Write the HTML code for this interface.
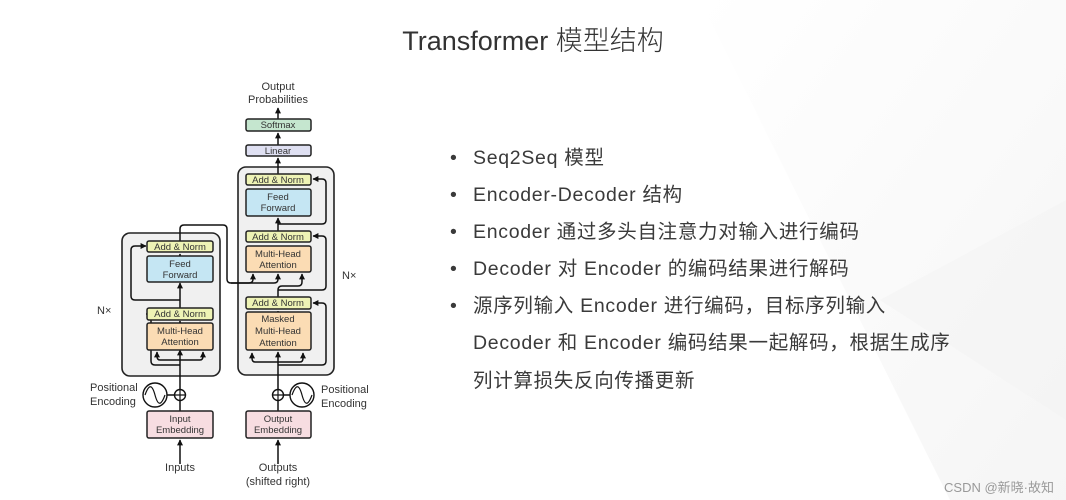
<!DOCTYPE html>
<html><head><meta charset="utf-8"><style>
html,body{margin:0;padding:0;background:#fff;}
svg{display:block;}
.d{font-family:"Liberation Sans",sans-serif;font-size:9.5px;fill:#333;text-anchor:middle;}
.l{font-family:"Liberation Sans",sans-serif;font-size:11px;fill:#333;}
.t{font-family:"Liberation Sans","Noto Sans CJK SC",sans-serif;font-size:19.5px;fill:#3a3a3a;letter-spacing:0.7px;}
</style></head><body>
<svg width="1066" height="500" viewBox="0 0 1066 500" xmlns="http://www.w3.org/2000/svg">
<defs>
<linearGradient id="bg" x1="0" y1="0" x2="1" y2="1"><stop offset="0" stop-color="#ffffff"/><stop offset="1" stop-color="#f1f1f1"/></linearGradient>
<marker id="a" viewBox="0 0 10 10" refX="9" refY="5" markerWidth="4" markerHeight="4" orient="auto"><path d="M0,0L10,5L0,10z" fill="#111"/></marker>
</defs>
<rect width="1066" height="500" fill="#fff"/>
<polygon points="700,0 1066,0 1066,500 950,500" fill="url(#bg)" opacity="0.7"/>
<polygon points="880,300 1066,200 1066,420" fill="#f3f3f3" opacity="0.6"/>

<text x="533" y="50" text-anchor="middle" style="font-family:'Liberation Sans','Noto Sans CJK SC',sans-serif;font-size:27px;fill:#333;font-weight:300">Transformer 模型结构</text>

<rect x="122" y="233" width="98" height="143" rx="8" fill="#f0f0f0" stroke="#222" stroke-width="1.6"/>
<rect x="238" y="167" width="96" height="208" rx="8" fill="#f0f0f0" stroke="#222" stroke-width="1.6"/>

<g stroke="#111" stroke-width="1.5" fill="none">
<line x1="180" y1="464" x2="180" y2="440" marker-end="url(#a)"/>
<line x1="180" y1="411" x2="180" y2="401"/>
<line x1="180" y1="389" x2="180" y2="350" marker-end="url(#a)"/>
<line x1="167" y1="395" x2="174" y2="395"/>
<path d="M180,365 H155 Q151,365 151,361 V318 Q151,314 155,314 H146" />
<path d="M180,360 H160 Q157,360 157,356 V352" marker-end="url(#a)"/>
<path d="M180,360 H200 Q203,360 203,356 V352" marker-end="url(#a)"/>
<line x1="180" y1="323" x2="180" y2="321" marker-end="url(#a)"/>
<line x1="180" y1="308" x2="180" y2="283" marker-end="url(#a)"/>
<path d="M180,300 H135 Q131,300 131,296 V250 Q131,246 135,246 H146" marker-end="url(#a)"/>
<line x1="180" y1="256" x2="180" y2="254" marker-end="url(#a)"/>
<path d="M180,241 V229 Q180,225 184,225 H223 Q227,225 227,229 V279 Q227,283 231,283 H249 Q253,283 253,279 V274" marker-end="url(#a)"/>
<path d="M231,283 H274 Q278,283 278,279 V274" marker-end="url(#a)"/>
<line x1="278" y1="464" x2="278" y2="440" marker-end="url(#a)"/>
<line x1="278" y1="411" x2="278" y2="401"/>
<line x1="278" y1="389" x2="278" y2="352" marker-end="url(#a)"/>
<line x1="284" y1="395" x2="290" y2="395"/>
<path d="M278,362 H255 Q252,362 252,358 V353" marker-end="url(#a)"/>
<path d="M278,362 H300 Q303,362 303,358 V353" marker-end="url(#a)"/>
<path d="M278,365 H322 Q326,365 326,361 V307 Q326,303 322,303 H313" marker-end="url(#a)"/>
<line x1="278" y1="312" x2="278" y2="311"/>
<path d="M278,297 V290 Q278,286 282,286 H298 Q302,286 302,282 V274" marker-end="url(#a)"/>
<path d="M278,290 H322 Q326,290 326,286 V240 Q326,236 322,236 H313" marker-end="url(#a)"/>
<line x1="278" y1="231" x2="278" y2="218" marker-end="url(#a)"/>
<path d="M278,224 H322 Q326,224 326,220 V183 Q326,179 322,179 H313" marker-end="url(#a)"/>
<line x1="278" y1="174" x2="278" y2="158" marker-end="url(#a)"/>
<line x1="278" y1="145" x2="278" y2="133" marker-end="url(#a)"/>
<line x1="278" y1="119" x2="278" y2="108" marker-end="url(#a)"/>
</g>

<g stroke="#222" stroke-width="1.5">
<rect x="147" y="241" width="66" height="11" rx="2" fill="#eef3b5"/>
<rect x="147" y="256" width="66" height="26" rx="2" fill="#c5e6f3"/>
<rect x="147" y="308" width="66" height="12" rx="2" fill="#eef3b5"/>
<rect x="147" y="323" width="66" height="27" rx="2" fill="#fbdcb4"/>
<rect x="147" y="411" width="66" height="27" rx="2" fill="#f7dde1"/>
<rect x="246" y="119" width="65" height="12" rx="2" fill="#c5e6cf"/>
<rect x="246" y="145" width="65" height="11" rx="2" fill="#dfe0f2"/>
<rect x="246" y="174" width="65" height="11" rx="2" fill="#eef3b5"/>
<rect x="246" y="189" width="65" height="27" rx="2" fill="#c5e6f3"/>
<rect x="246" y="231" width="65" height="11" rx="2" fill="#eef3b5"/>
<rect x="246" y="246" width="65" height="26" rx="2" fill="#fbdcb4"/>
<rect x="246" y="297" width="65" height="12" rx="2" fill="#eef3b5"/>
<rect x="246" y="312" width="65" height="38" rx="2" fill="#fbdcb4"/>
<rect x="246" y="411" width="65" height="27" rx="2" fill="#f7dde1"/>
</g>
<g stroke="#111" stroke-width="1.4" fill="#fff">
<circle cx="180" cy="395" r="5.5"/><circle cx="155" cy="395" r="12"/>
<circle cx="278" cy="395" r="5.5"/><circle cx="302" cy="395" r="12"/>
</g>
<g stroke="#111" stroke-width="1.2" fill="none">
<path d="M174.5,395H185.5M180,389.5V400.5M272.5,395H283.5M278,389.5V400.5"/>
<path d="M145,395 C149,384 152,384 155,395 C158,406 161,406 165,395"/>
<path d="M292,395 C296,384 299,384 302,395 C305,406 308,406 312,395"/>
</g>

<text class="d" x="180" y="250">Add &amp; Norm</text>
<text class="d" x="180" y="267">Feed</text><text class="d" x="180" y="278">Forward</text>
<text class="d" x="180" y="317">Add &amp; Norm</text>
<text class="d" x="180" y="334">Multi-Head</text><text class="d" x="180" y="345">Attention</text>
<text class="d" x="180" y="422">Input</text><text class="d" x="180" y="433">Embedding</text>
<text class="d" x="278" y="128">Softmax</text>
<text class="d" x="278" y="154">Linear</text>
<text class="d" x="278" y="183">Add &amp; Norm</text>
<text class="d" x="278" y="200">Feed</text><text class="d" x="278" y="211">Forward</text>
<text class="d" x="278" y="240">Add &amp; Norm</text>
<text class="d" x="278" y="257">Multi-Head</text><text class="d" x="278" y="268">Attention</text>
<text class="d" x="278" y="306">Add &amp; Norm</text>
<text class="d" x="278" y="322">Masked</text><text class="d" x="278" y="334">Multi-Head</text><text class="d" x="278" y="346">Attention</text>
<text class="d" x="278" y="422">Output</text><text class="d" x="278" y="433">Embedding</text>
<text class="l" x="278" y="90" text-anchor="middle">Output</text>
<text class="l" x="278" y="103" text-anchor="middle">Probabilities</text>
<text class="l" x="180" y="471" text-anchor="middle">Inputs</text>
<text class="l" x="278" y="471" text-anchor="middle">Outputs</text>
<text class="l" x="278" y="485" text-anchor="middle">(shifted right)</text>
<text class="l" x="90" y="391">Positional</text><text class="l" x="90" y="405">Encoding</text>
<text class="l" x="321" y="393">Positional</text><text class="l" x="321" y="407">Encoding</text>
<text class="l" x="97" y="314">N×</text>
<text class="l" x="342" y="279">N×</text>

<g class="t">
<text x="450" y="164">•</text><text x="473" y="164">Seq2Seq 模型</text>
<text x="450" y="201">•</text><text x="473" y="201">Encoder-Decoder 结构</text>
<text x="450" y="238">•</text><text x="473" y="238">Encoder 通过多头自注意力对输入进行编码</text>
<text x="450" y="275">•</text><text x="473" y="275">Decoder 对 Encoder 的编码结果进行解码</text>
<text x="450" y="312">•</text><text x="473" y="312">源序列输入 Encoder 进行编码，目标序列输入</text>
<text x="473" y="349">Decoder 和 Encoder 编码结果一起解码，根据生成序</text>
<text x="473" y="387">列计算损失反向传播更新</text>
</g>
<text x="1054" y="492" text-anchor="end" style="font-family:'Liberation Sans','Noto Sans CJK SC',sans-serif;font-size:13px;fill:#999">CSDN @新晓·故知</text>
</svg>
</body></html>
